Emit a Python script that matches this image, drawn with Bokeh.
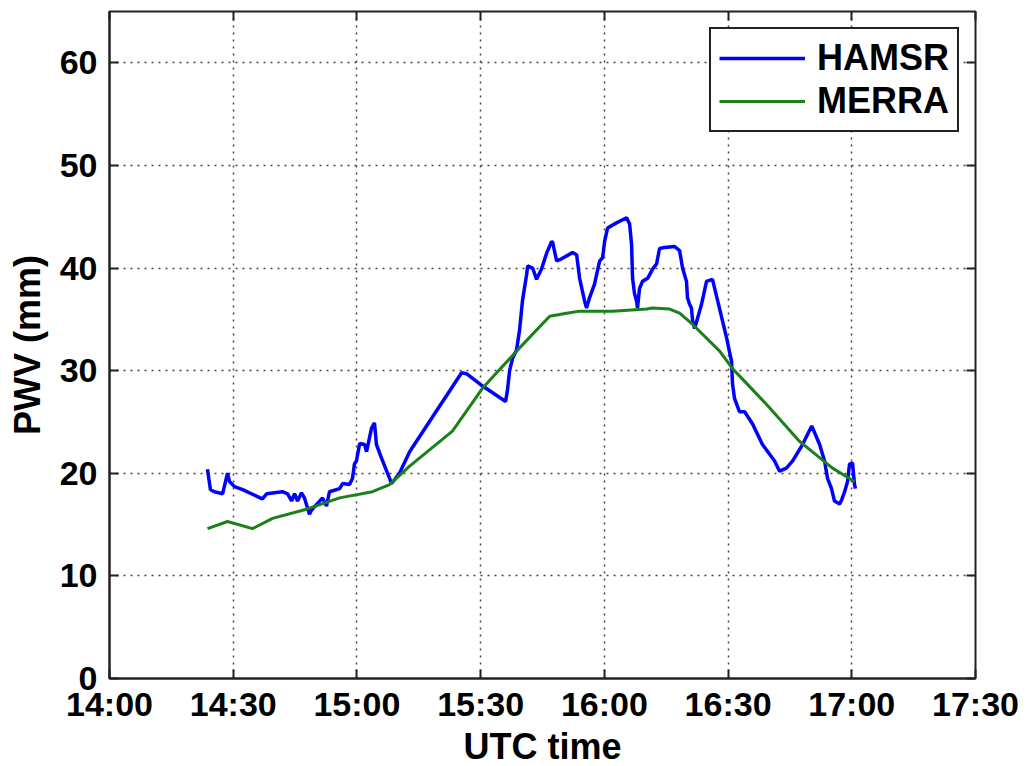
from bokeh.plotting import figure
from bokeh.models import Range1d, FixedTicker, LinearAxis, Legend, LegendItem, CustomLabelingPolicy
from bokeh.embed import file_html
from bokeh.resources import INLINE

# ---- data (UTC time in decimal hours, PWV in mm) ----
hamsr_time = [14.396, 14.408, 14.424, 14.457, 14.477, 14.485, 14.505, 14.538, 14.618, 14.635,
              14.699, 14.720, 14.736, 14.748, 14.760, 14.776, 14.788, 14.808, 14.816, 14.861,
              14.877, 14.889, 14.930, 14.942, 14.970, 14.982, 14.990, 14.998, 15.011, 15.031,
              15.039, 15.059, 15.071, 15.079, 15.099, 15.132, 15.140, 15.172, 15.213, 15.423,
              15.443, 15.508, 15.601, 15.609, 15.617, 15.629, 15.645, 15.657, 15.669, 15.686,
              15.690, 15.710, 15.726, 15.746, 15.766, 15.787, 15.791, 15.807, 15.827, 15.871,
              15.888, 15.900, 15.920, 15.928, 15.940, 15.960, 15.981, 15.993, 16.001, 16.013,
              16.049, 16.090, 16.102, 16.110, 16.114, 16.122, 16.130, 16.134, 16.142, 16.154,
              16.175, 16.195, 16.211, 16.223, 16.243, 16.284, 16.304, 16.316, 16.332, 16.336,
              16.344, 16.352, 16.357, 16.365, 16.393, 16.413, 16.437, 16.458, 16.478, 16.494,
              16.514, 16.518, 16.526, 16.546, 16.567, 16.599, 16.639, 16.688, 16.708, 16.736,
              16.761, 16.801, 16.838, 16.842, 16.870, 16.890, 16.902, 16.918, 16.930, 16.951,
              16.959, 16.971, 16.983, 16.991, 17.003, 17.011, 17.015]
hamsr_pwv = [20.4, 18.4, 18.2, 18.0, 20.0, 19.2, 18.7, 18.4, 17.5, 18.0,
             18.2, 18.0, 17.3, 18.0, 17.3, 18.1, 17.6, 16.0, 16.4, 17.6,
             16.8, 18.2, 18.5, 19.0, 18.9, 19.5, 20.9, 21.2, 22.9, 22.8,
             22.1, 24.4, 24.9, 22.8, 21.5, 19.5, 19.0, 20.0, 22.1, 29.8,
             29.7, 28.5, 27.0, 28.2, 30.0, 31.2, 32.0, 33.9, 36.8, 39.4,
             40.2, 40.0, 38.9, 39.9, 41.4, 42.6, 42.5, 40.7, 40.9, 41.5,
             41.3, 39.0, 36.8, 36.1, 37.1, 38.4, 40.7, 41.0, 42.6, 43.9,
             44.4, 44.9, 44.3, 42.3, 39.0, 37.5, 36.8, 36.1, 38.0, 38.7,
             39.0, 39.9, 40.4, 41.9, 42.0, 42.1, 41.7, 40.0, 38.7, 37.1,
             36.5, 36.1, 34.8, 34.1, 36.5, 38.7, 38.9, 36.8, 34.8, 33.2,
             30.9, 28.7, 27.3, 26.0, 26.0, 24.8, 22.8, 21.2, 20.2, 20.5,
             21.2, 22.8, 24.6, 24.4, 22.8, 21.2, 19.5, 18.5, 17.3, 17.0,
             17.4, 18.2, 19.2, 20.9, 21.0, 18.9, 18.5]

merra_time = [14.396, 14.477, 14.578, 14.659, 14.796, 14.930, 15.063, 15.132, 15.213, 15.386,
              15.508, 15.645, 15.779, 15.847, 15.900, 16.033, 16.171, 16.195, 16.264, 16.304,
              16.357, 16.466, 16.518, 16.656, 16.789, 16.922, 17.011]
merra_pwv = [14.6, 15.3, 14.6, 15.6, 16.5, 17.6, 18.2, 18.9, 20.7, 24.1,
             28.3, 31.9, 35.3, 35.6, 35.8, 35.8, 36.0, 36.1, 36.0, 35.6,
             34.5, 31.9, 30.2, 26.7, 23.1, 20.5, 19.2]

x_ticks = [14.0, 14.5, 15.0, 15.5, 16.0, 16.5, 17.0, 17.5]
x_tick_labels = ["14:00", "14:30", "15:00", "15:30", "16:00", "16:30", "17:00", "17:30"]
y_ticks = [0, 10, 20, 30, 40, 50, 60]

FONT = "Liberation Sans"
DARK = "#222222"

p = figure(frame_width=866, frame_height=667,
           min_border_left=109, min_border_right=57, min_border_top=11, min_border_bottom=88,
           x_range=Range1d(14, 17.5), y_range=Range1d(0, 65),
           output_backend="svg", toolbar_location=None,
           background_fill_color="white", border_fill_color="white")

p.outline_line_color = DARK
p.outline_line_width = 2

xt = FixedTicker(ticks=x_ticks)
yt = FixedTicker(ticks=y_ticks)

for ax in p.xaxis:
    ax.ticker = xt
    ax.major_label_overrides = dict(zip(x_ticks, x_tick_labels))
for ax in p.yaxis:
    ax.ticker = yt

for ax in p.xaxis + p.yaxis:
    ax.major_tick_in = 9
    ax.major_tick_out = 0
    ax.minor_tick_in = 0
    ax.minor_tick_out = 0
    ax.axis_line_color = DARK
    ax.axis_line_width = 2
    ax.major_tick_line_color = DARK
    ax.major_tick_line_width = 2
    ax.major_label_text_font = FONT
    ax.major_label_text_font_style = "bold"
    ax.major_label_text_font_size = "34px"
    ax.major_label_text_color = "black"
    ax.axis_label_text_font = FONT
    ax.axis_label_text_font_style = "bold"
    ax.axis_label_text_font_size = "36px"
    ax.axis_label_text_color = "black"

p.xaxis.axis_label = "UTC time"
p.yaxis.axis_label = "PWV (mm)"
p.xaxis.major_label_standoff = 6
p.xaxis.axis_label_standoff = 0
p.yaxis.major_label_standoff = 12
p.yaxis.axis_label_standoff = 9

no_labels = CustomLabelingPolicy(code="""
const all = [...indices];
for (const i of all) { indices.unset(i); }
return indices;
""")

# ticks on top and right (box)
top = LinearAxis(ticker=xt, major_label_policy=no_labels, major_label_text_font_size="1px",
                 major_label_standoff=0,
                 major_tick_in=9, major_tick_out=0, minor_tick_in=0, minor_tick_out=0,
                 axis_line_color=None, major_tick_line_color=DARK, major_tick_line_width=2)
right = LinearAxis(ticker=yt, major_label_policy=no_labels, major_label_text_font_size="1px",
                   major_label_standoff=0,
                   major_tick_in=9, major_tick_out=0, minor_tick_in=0, minor_tick_out=0,
                   axis_line_color=None, major_tick_line_color=DARK, major_tick_line_width=2)
p.add_layout(top, "above")
p.add_layout(right, "right")

for g in (p.xgrid, p.ygrid):
    g.grid_line_color = "#444444"
    g.grid_line_dash = "2 5"
    g.grid_line_width = 1.5
p.xgrid.ticker = xt
p.ygrid.ticker = yt

r1 = p.line(hamsr_time, hamsr_pwv, line_color="#0000ff", line_width=3.5)
r2 = p.line(merra_time, merra_pwv, line_color="#1a801a", line_width=3)

legend = Legend(items=[LegendItem(label="HAMSR", renderers=[r1]),
                       LegendItem(label="MERRA", renderers=[r2])],
                location="top_right", margin=16,
                padding=8, spacing=1, glyph_width=86, glyph_height=34,
                label_height=34, label_standoff=12,
                label_text_font=FONT, label_text_font_style="bold",
                label_text_font_size="36px", label_text_color="black",
                border_line_color=DARK, border_line_width=2, border_line_alpha=1.0,
                background_fill_color="white", background_fill_alpha=1.0)
p.add_layout(legend)

open("out.html", "w").write(file_html(p, INLINE))
